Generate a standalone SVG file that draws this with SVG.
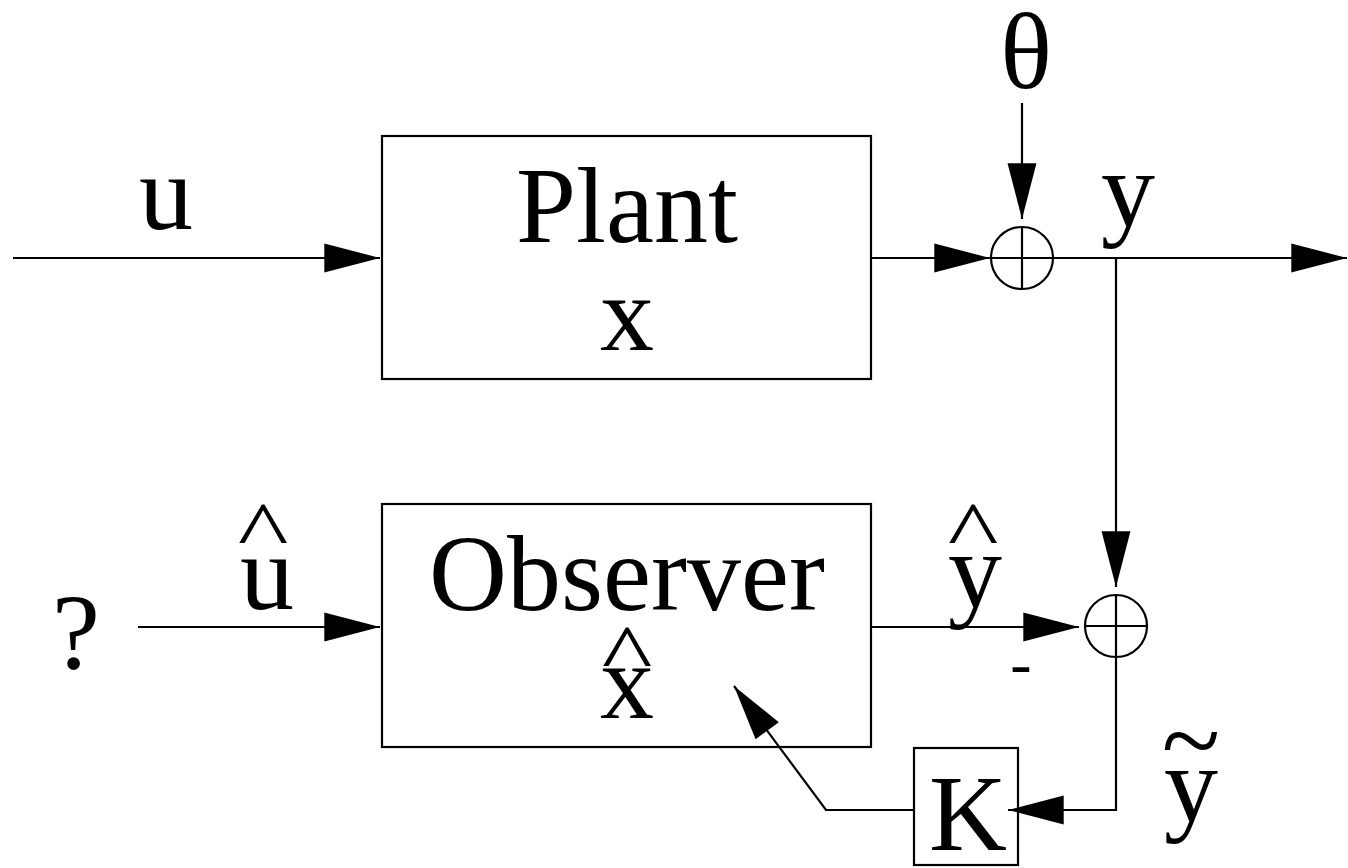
<svg xmlns="http://www.w3.org/2000/svg" width="1348" height="868" viewBox="0 0 1348 868">
<style>
.t{font-family:"Liberation Serif","Times New Roman",serif;font-size:108px;fill:#000;text-anchor:middle}
.ln{stroke:#000;stroke-width:2.2;fill:none}
.bx{stroke:#000;stroke-width:2.2;fill:#fff}
</style>
<defs>
<marker id="ah" markerUnits="userSpaceOnUse" markerWidth="60" markerHeight="40" viewBox="-54 -16 56 32" refX="0" refY="0" orient="auto">
<path d="M0,0 L-52,-13.5 L-52,13.5 Z" fill="#000"/>
</marker>
</defs>
<rect width="1348" height="868" fill="#fff"/>
<g id="plant">
<rect class="bx" x="382" y="136" width="489" height="243"/>
<text class="t" x="627" y="242">Plant</text>
<text class="t" x="627" y="350">x</text>
</g>
<g id="observer">
<rect class="bx" x="382" y="504" width="489" height="243"/>
<text class="t" x="627" y="610">Observer</text>
<text class="t" transform="translate(627,682) scale(1,0.76)" x="0" y="0">^</text>
<text class="t" x="627" y="718">x</text>
</g>
<g id="sum1">
<circle class="ln" cx="1022" cy="258" r="31"/>
<line class="ln" x1="991" y1="258" x2="1053" y2="258"/>
<line class="ln" x1="1022" y1="227" x2="1022" y2="289"/>
</g>
<g id="sum2">
<circle class="ln" cx="1116" cy="626" r="31"/>
<line class="ln" x1="1085" y1="626" x2="1147" y2="626"/>
<line class="ln" x1="1116" y1="595" x2="1116" y2="657"/>
</g>
<g id="gainK">
<rect class="bx" x="914" y="748" width="104" height="117"/>
<text class="t" x="968" y="850">K</text>
</g>
<g id="connectors">
<line class="ln" x1="13" y1="258" x2="380" y2="258" marker-end="url(#ah)"/>
<line class="ln" x1="872" y1="258" x2="990" y2="258" marker-end="url(#ah)"/>
<line class="ln" x1="1022" y1="103" x2="1022" y2="219" marker-end="url(#ah)"/>
<line class="ln" x1="1054" y1="258" x2="1347" y2="258" marker-end="url(#ah)"/>
<line class="ln" x1="1116" y1="258" x2="1116" y2="587" marker-end="url(#ah)"/>
<line class="ln" x1="138" y1="627" x2="380" y2="627" marker-end="url(#ah)"/>
<line class="ln" x1="872" y1="627" x2="1079" y2="627" marker-end="url(#ah)"/>
<polyline class="ln" points="1116,657 1116,810 1008,810" marker-end="url(#ah)"/>
<polyline class="ln" points="914,810 826,810 734,686" marker-end="url(#ah)"/>
</g>
<g id="labels">
<text class="t" x="166" y="229">u</text>
<text class="t" x="1026" y="88">θ</text>
<text class="t" x="1128" y="226">y</text>
<text class="t" transform="translate(263,559) scale(1,0.76)" x="0" y="0">^</text>
<text class="t" x="267" y="609">u</text>
<text class="t" transform="translate(973,559) scale(1,0.76)" x="0" y="0">^</text>
<text class="t" x="975" y="607">y</text>
<text class="t" x="76" y="668">?</text>
<text class="t" style="font-size:64px" x="1021" y="685">-</text>
<text class="t" x="1191" y="777">~</text>
<text class="t" x="1191" y="821">y</text>
</g>
</svg>
